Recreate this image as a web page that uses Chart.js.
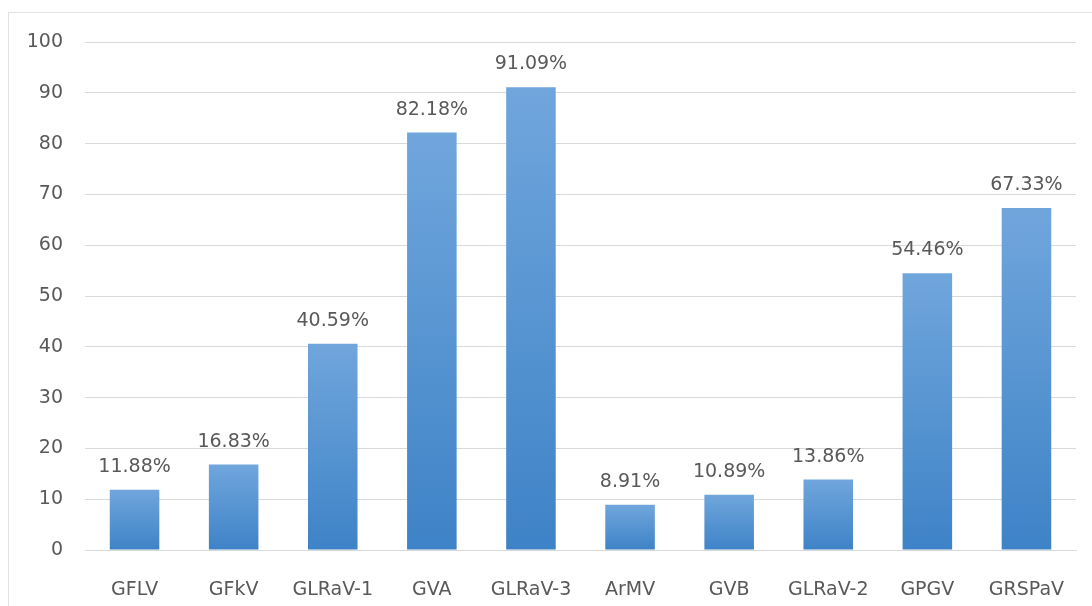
<!DOCTYPE html>
<html>
<head>
<meta charset="utf-8">
<script src="https://cdn.jsdelivr.net/npm/chart.js@4"></script>
<style>
  html, body { margin: 0; padding: 0; background: #fff; }
  #wrap { position: relative; width: 1092px; height: 606px; overflow: hidden; }
  #frame {
    position: absolute; left: 8px; top: 12px; width: 1100px; height: 610px;
    border-left: 1px solid #e2e2e2; border-top: 1px solid #e2e2e2; pointer-events: none;
  }
  canvas { position: absolute; left: 0; top: 0; }
</style>
</head>
<body>
<div id="wrap">
  <canvas id="chart" width="1092" height="606"></canvas>
  <div id="frame"></div>
</div>
<script>
const categories = ["GFLV", "GFkV", "GLRaV-1", "GVA", "GLRaV-3", "ArMV", "GVB", "GLRaV-2", "GPGV", "GRSPaV"];
const values = [11.88, 16.83, 40.59, 82.18, 91.09, 8.91, 10.89, 13.86, 54.46, 67.33];
const yTicks = [0, 10, 20, 30, 40, 50, 60, 70, 80, 90, 100];

const FONT = "'DejaVu Sans', sans-serif";
const TEXT = "#595959";

// per-bar vertical gradient, light on top
function barFill(ctx) {
  const chart = ctx.chart;
  const y = chart.scales.y;
  if (!chart.chartArea || !y || ctx.parsed == null) return "#5b9bd5";
  const top = y.getPixelForValue(ctx.parsed.y);
  const base = y.getPixelForValue(0);
  const g = chart.ctx.createLinearGradient(0, top, 0, base);
  g.addColorStop(0, "#70a6dc");
  g.addColorStop(1, "#3e83c7");
  return g;
}

const valueLabels = {
  id: "valueLabels",
  afterDatasetsDraw(chart) {
    const { ctx } = chart;
    const meta = chart.getDatasetMeta(0);
    ctx.save();
    ctx.font = "19px " + FONT;
    ctx.fillStyle = TEXT;
    ctx.textAlign = "center";
    ctx.textBaseline = "alphabetic";
    meta.data.forEach((bar, i) => {
      ctx.fillText(values[i].toFixed(2) + "%", bar.x, bar.y - 18);
    });
    ctx.restore();
  },
};

new Chart(document.getElementById("chart"), {
  type: "bar",
  data: {
    labels: categories,
    datasets: [{
      data: values,
      backgroundColor: barFill,
      borderWidth: 0,
      barPercentage: 0.5,
      categoryPercentage: 1.0,
    }],
  },
  options: {
    responsive: false,
    animation: false,
    layout: { padding: { left: 20, right: 16, top: 42, bottom: 10 } },
    plugins: { legend: { display: false }, tooltip: { enabled: false } },
    scales: {
      x: {
        grid: { display: false },
        border: { color: "#d9d9d9", width: 1 },
        ticks: { color: TEXT, font: { family: FONT, size: 19 }, padding: 21, maxRotation: 0 },
        afterFit: (s) => { s.height = 46; },
      },
      y: {
        min: 0, max: 100,
        afterBuildTicks: (s) => { s.ticks = yTicks.map((v) => ({ value: v })); },
        grid: { color: "#d9d9d9", drawTicks: false },
        border: { display: false },
        ticks: { color: TEXT, font: { family: FONT, size: 19 }, padding: 22 },
        afterFit: (s) => { s.width = 65; },
      },
    },
  },
  plugins: [valueLabels],
});
</script>
</body>
</html>
